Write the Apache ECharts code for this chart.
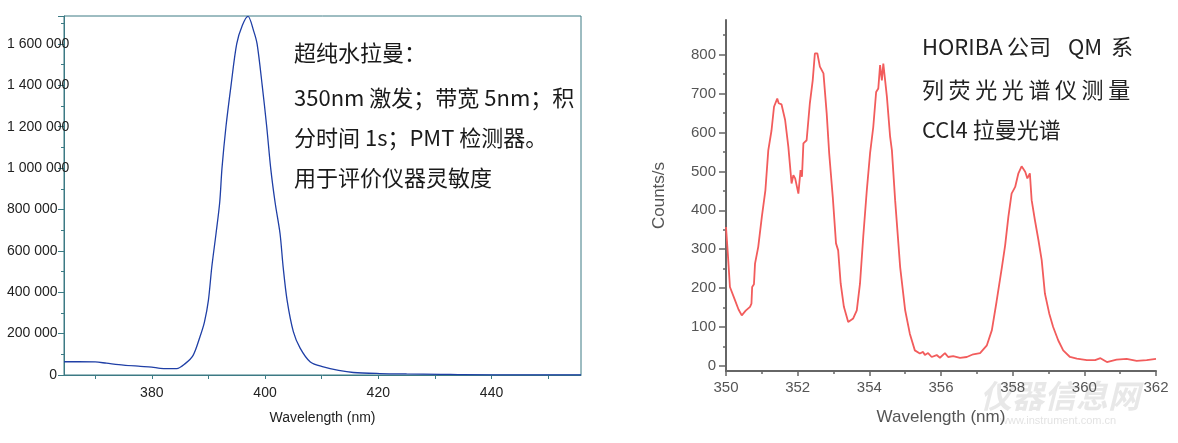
<!DOCTYPE html>
<html>
<head>
<meta charset="utf-8">
<script src="https://cdn.jsdelivr.net/npm/echarts@6/dist/echarts.min.js"></script>
<style>
html,body{margin:0;padding:0;background:#fff;}
#chart{width:1178px;height:443px;}
</style>
</head>
<body>
<div id="chart"></div>
<script>
// ---- Left chart: ultrapure water Raman ----
const waterWavelength = [364.5,367,370,372,375,378,380,381.5,383,384.4,385.9,387.3,388.5,389.3,390.0,390.6,391.35,392.0,392.4,393.1,394.0,395.0,396.0,397.0,398.0,398.6,399.5,400.3,401.0,401.8,402.65,403.2,403.9,405.0,406.2,408.0,410.3,413.0,415.6,420.3,425.0,431.0,435.0,445.0,455.8];
const waterIntensity  = [64000,64000,63000,57000,48000,42000,38000,32000,31000,31000,55000,95000,184000,256000,361000,522000,684000,835000,1000000,1200000,1400000,1600000,1690000,1733000,1662000,1600000,1400000,1200000,1000000,830000,684000,522000,361000,210000,130000,63000,39000,22000,12000,7000,5000,3500,1500,1000,1000];
const waterXLabels = [380,400,420,440];
const waterXTicks  = [370,380,390,400,410,420,430,440,450];

// ---- Right chart: CCl4 Raman ----
const ccl4Wavelength = [350.00,350.05,350.11,350.25,350.35,350.44,350.55,350.67,350.71,350.73,350.78,350.81,350.90,351.00,351.10,351.18,351.27,351.34,351.43,351.47,351.51,351.55,351.65,351.74,351.83,351.88,351.93,352.02,352.08,352.12,352.16,352.25,352.34,352.42,352.48,352.55,352.62,352.72,352.81,352.88,352.98,353.07,353.13,353.20,353.29,353.41,353.55,353.65,353.74,353.83,353.93,354.02,354.11,354.19,354.25,354.30,354.35,354.39,354.49,354.58,354.63,354.72,354.86,355.00,355.13,355.27,355.41,355.50,355.55,355.64,355.74,355.88,355.97,356.11,356.20,356.34,356.53,356.72,356.90,357.09,357.28,357.42,357.55,357.70,357.79,357.88,357.97,358.07,358.16,358.25,358.35,358.41,358.48,358.53,358.62,358.72,358.81,358.90,359.02,359.13,359.27,359.41,359.60,359.79,360.07,360.30,360.45,360.63,360.90,361.18,361.46,361.74,362.00];
const ccl4Counts     = [357,290,203,169,145,130,142,152,160,203,210,263,306,383,452,554,605,666,687,675,679,672,632,563,469,490,482,443,503,486,572,580,675,734,803,803,769,752,649,546,434,315,297,212,152,113,122,143,212,332,452,546,614,704,713,773,734,777,692,589,554,426,254,143,83,40,32,36,28,33,23,28,21,33,23,25,21,23,30,33,53,92,165,254,310,383,443,460,495,513,499,482,495,426,375,323,272,186,135,100,66,40,23,19,15,15,20,10,16,18,13,15,18];
const ccl4YLabels = [0,100,200,300,400,500,600,700,800];
const ccl4YMinor  = [50,150,250,350,450,550,650,750,850];

const leftText  = ['超纯水拉曼：','350nm 激发；带宽 5nm；积','分时间 1s；PMT 检测器。','用于评价仪器灵敏度'];
const rightLine1 = ['HORIBA ', '公司', 'QM', '系'];
const rightLine2 = '列荧光光谱仪测量';
const rightLine3 = 'CCl4 拉曼光谱';

const teal = '#3c7a84';
const grey = '#666';
const fmtSpace = v => String(v).replace(/\B(?=(\d{3})+(?!\d))/g, ' ');

const chart = echarts.init(document.getElementById('chart'));
const leftMid = [53, 98, 138, 178];
const rightMid = [47, 90, 130];
const cjkFont = '22px "Noto Sans CJK SC", sans-serif';

const graphics = [];
leftText.forEach((t, i) => graphics.push({
  type: 'text', x: 294, y: leftMid[i],
  style: { text: t, font: cjkFont, fill: '#1a1a1a', align: 'left', verticalAlign: 'middle' }
}));
// justified paragraph lines on the right (rich fragments give the spacing)
const w1 = [85, 61, 43, 24];
graphics.push({
  type: 'text', x: 922, y: rightMid[0],
  style: {
    text: rightLine1.map((s, i) => '{f' + i + '|' + s + '}').join(''),
    rich: Object.fromEntries(w1.map((w, i) => ['f' + i, { width: w, align: 'left', font: cjkFont, fill: '#222' }])),
    font: cjkFont, fill: '#222', align: 'left', verticalAlign: 'middle'
  }
});
graphics.push({
  type: 'text', x: 922, y: rightMid[1],
  style: {
    text: rightLine2.split('').map(c => '{c|' + c + '}').join(''),
    rich: { c: { width: 26.6, align: 'left', font: cjkFont, fill: '#222' } },
    font: cjkFont, fill: '#222', align: 'left', verticalAlign: 'middle'
  }
});
graphics.push({
  type: 'text', x: 922, y: rightMid[2],
  style: { text: rightLine3, font: cjkFont, fill: '#222', align: 'left', verticalAlign: 'middle' }
});
graphics.push({
  type: 'text', x: 980, y: 396,
  style: { text: '仪器信息网', font: 'italic bold 32px "Noto Sans CJK SC", sans-serif', fill: 'rgba(190,190,190,0.35)', verticalAlign: 'middle' }
});
graphics.push({
  type: 'text', x: 1000, y: 421,
  style: { text: 'www.instrument.com.cn', font: '11px "Liberation Sans", sans-serif', fill: 'rgba(190,190,190,0.45)', verticalAlign: 'middle' }
});

chart.setOption({
  animation: false,
  backgroundColor: '#fff',
  grid: [
    { left: 64, top: 16, width: 517, height: 359, show: true, borderColor: teal, borderWidth: 1, backgroundColor: 'transparent' },
    { left: 726, top: 20, width: 430, height: 351, show: false }
  ],
  xAxis: [
    {
      type: 'value', gridIndex: 0, min: 364.5, max: 455.8,
      name: 'Wavelength (nm)', nameLocation: 'middle', nameGap: 36,
      nameTextStyle: { fontFamily: '"Liberation Sans", Arial, sans-serif', fontSize: 14, color: '#222' },
      axisLine: { show: true, lineStyle: { color: teal, width: 1 } },
      axisTick: { show: true, length: 4, lineStyle: { color: teal }, customValues: waterXTicks },
      axisLabel: { customValues: waterXLabels, margin: 11, fontFamily: '"Liberation Sans", Arial, sans-serif', fontSize: 14, color: '#222' },
      splitLine: { show: false }
    },
    {
      type: 'value', gridIndex: 1, min: 350, max: 362, interval: 2,
      name: 'Wavelength (nm)', nameLocation: 'middle', nameGap: 38,
      nameTextStyle: { fontFamily: '"Liberation Sans", Arial, sans-serif', fontSize: 17, color: '#555' },
      axisLine: { show: true, onZero: false, lineStyle: { color: grey, width: 2 } },
      axisTick: { show: true, length: 5, lineStyle: { color: grey, width: 1.5 } },
      minorTick: { show: true, splitNumber: 2, length: 3, lineStyle: { color: grey, width: 1.5 } },
      axisLabel: { margin: 9, fontFamily: '"Liberation Sans", Arial, sans-serif', fontSize: 15, color: '#555' },
      splitLine: { show: false }, minorSplitLine: { show: false }
    }
  ],
  yAxis: [
    {
      type: 'value', gridIndex: 0, min: 0, max: 1735000, interval: 200000,
      axisLine: { show: true, lineStyle: { color: teal, width: 1 } },
      axisTick: { show: true, length: 6, lineStyle: { color: teal } },
      minorTick: { show: true, splitNumber: 2, length: 3, lineStyle: { color: teal } },
      axisLabel: { showMaxLabel: false, align: 'left', margin: 57,
        formatter: v => v === 0 ? '{z|0}' : fmtSpace(v),
        rich: { z: { width: 50, align: 'right', fontFamily: '"Liberation Sans", Arial, sans-serif', fontSize: 14, color: '#222' } },
        fontFamily: '"Liberation Sans", Arial, sans-serif', fontSize: 14, color: '#222' },
      splitLine: { show: false }, minorSplitLine: { show: false }
    },
    {
      type: 'value', gridIndex: 1, min: -13, max: 889, position: 'left',
      name: 'Counts/s', nameLocation: 'middle', nameGap: 58, nameRotate: 90,
      nameTextStyle: { fontFamily: '"Liberation Sans", Arial, sans-serif', fontSize: 17, color: '#555' },
      axisLine: { show: true, onZero: false, lineStyle: { color: grey, width: 2 } },
      axisTick: { show: true, length: 7, customValues: ccl4YLabels, lineStyle: { color: grey, width: 1.5 } },
      axisLabel: { customValues: ccl4YLabels, margin: 10, fontFamily: '"Liberation Sans", Arial, sans-serif', fontSize: 15, color: '#555' },
      splitLine: { show: false }
    },
    {
      type: 'value', gridIndex: 1, min: -13, max: 889, position: 'left', offset: 0,
      axisLine: { show: false, onZero: false },
      axisTick: { show: true, length: 3, customValues: ccl4YMinor, lineStyle: { color: grey, width: 1.5 } },
      axisLabel: { show: false },
      splitLine: { show: false }
    }
  ],
  series: [
    {
      type: 'line', xAxisIndex: 0, yAxisIndex: 0, symbol: 'none', smooth: 0.3,
      lineStyle: { color: '#1f3fa6', width: 1.3 },
      data: waterWavelength.map((x, i) => [x, waterIntensity[i]])
    },
    {
      type: 'line', xAxisIndex: 1, yAxisIndex: 1, symbol: 'none',
      lineStyle: { color: '#f25c5c', width: 1.8 },
      data: ccl4Wavelength.map((x, i) => [x, ccl4Counts[i]])
    }
  ],
  graphic: graphics
});
</script>
</body>
</html>
